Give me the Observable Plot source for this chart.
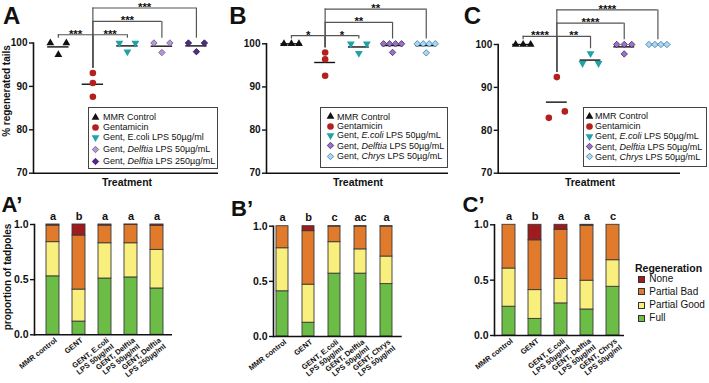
<!DOCTYPE html>
<html><head><meta charset="utf-8">
<script src="https://cdn.jsdelivr.net/npm/d3@7"></script>
<script src="https://cdn.jsdelivr.net/npm/@observablehq/plot@0.6"></script>
<style>
html,body{margin:0;padding:0;background:#fff;}
#root{position:relative;width:709px;height:383px;overflow:hidden;font-family:"Liberation Sans",Arial,Helvetica,sans-serif;color:#111;}
.pabs{position:absolute;overflow:visible;}
.pabs text{font-weight:bold;}
.t{position:absolute;white-space:nowrap;line-height:1;}
.lgbox{position:absolute;border:1px solid #444;box-sizing:border-box;background:#fff;}
.lgrow{position:absolute;white-space:nowrap;font-size:9px;line-height:10px;height:10px;display:flex;align-items:center;}
.lgrow svg{display:block;flex:none;}
</style></head><body><div id="root"></div>
<script>
// ================= DATA =================
// Top panels: % regenerated tails (replicate values per treatment)
const groupsA = ["MMR Control", "Gentamicin", "Gent, E.coli LPS 50µg/ml", "Gent, Delftia LPS 50µg/mL", "Gent, Delftia LPS 250µg/mL"];
const valuesA = [[100, 97.3, 100], [93.1, 90.8, 87.6], [100, 98.0, 100], [100, 97.8, 100], [100, 98.0, 100]];
const bracketsA = [[0, 1, "***", 1], [1, 2, "***", 1], [1, 3, "***", 2], [1, 4, "***", 3]];

const groupsB = ["MMR Control", "Gentamicin", "Gent, E.coli LPS 50µg/mL", "Gent, Delftia LPS 50µg/mL", "Gent, Chrys LPS 50µg/mL"];
const valuesB = [[100, 100, 100], [98.0, 96.4, 92.6], [100, 97.8, 100], [100, 100, 100, 100, 98.0], [100, 100, 100, 100, 97.9]];
const bracketsB = [[0, 1, "*", 1], [1, 2, "*", 1], [1, 3, "**", 2], [1, 4, "**", 3]];

const groupsC = ["MMR Control", "Gentamicin", "Gent, E.coli LPS 50µg/mL", "Gent, Delftia LPS 50µg/mL", "Gent, Chrys LPS 50µg/mL"];
const valuesC = [[100, 100, 100], [92.4, 82.9, 84.4], [97.9, 95.6, 95.6], [100, 100, 100, 97.8], [100, 100, 100, 100]];
const bracketsC = [[0, 1, "****", 1], [1, 2, "**", 1], [1, 3, "****", 2], [1, 4, "****", 3]];

// Bottom panels: proportion of tadpoles by regeneration class
const stages = ["Full", "Partial Good", "Partial Bad", "None"];
const catsA2 = ["MMR control", "GENT", "GENT, E.coli\nLPS 50µg/ml", "GENT, Delftia\nLPS 50µg/ml", "GENT, Delftia\nLPS 250µg/ml"];
const lettersA2 = ["a", "b", "a", "a", "a"];
const fullA2 = [0.53, 0.12, 0.51, 0.52, 0.42];
const pgoodA2 = [0.31, 0.29, 0.32, 0.31, 0.35];
const pbadA2 = [0.15, 0.49, 0.16, 0.167, 0.218];
const noneA2 = [0.01, 0.10, 0.01, 0.003, 0.012];

const catsB2 = ["MMR control", "GENT", "GENT, E.coli\nLPS 50µg/ml", "GENT, Delftia\nLPS 50µg/ml", "GENT, Chrys\nLPS 50µg/ml"];
const lettersB2 = ["a", "b", "c", "ac", "a"];
const fullB2 = [0.41, 0.125, 0.57, 0.57, 0.475];
const pgoodB2 = [0.39, 0.345, 0.285, 0.22, 0.25];
const pbadB2 = [0.20, 0.485, 0.142, 0.207, 0.272];
const noneB2 = [0, 0.045, 0.003, 0.003, 0.003];

const catsC2 = ["MMR control", "GENT", "GENT, E.coli\nLPS 50µg/ml", "GENT, Delftia\nLPS 50µg/ml", "GENT, Chrys\nLPS 50µg/ml"];
const lettersC2 = ["a", "b", "a", "a", "c"];
const fullC2 = [0.26, 0.15, 0.29, 0.235, 0.44];
const pgoodC2 = [0.345, 0.26, 0.22, 0.26, 0.24];
const pbadC2 = [0.395, 0.45, 0.445, 0.497, 0.32];
const noneC2 = [0, 0.14, 0.045, 0.008, 0];

// ================= STYLE =================
const FONT = '"Liberation Sans", Arial, Helvetica, sans-serif';
const plotStyle = {fontFamily: FONT, background: "transparent", overflow: "visible", color: "#111"};
const triDown = {draw(ctx, size) {
  const s3 = Math.sqrt(3), y = -Math.sqrt(size / (s3 * 3));
  ctx.moveTo(0, -y * 2); ctx.lineTo(-s3 * y, y); ctx.lineTo(s3 * y, y); ctx.closePath();
}};
const symType = {triangle: d3.symbolTriangle, circle: d3.symbolCircle, diamond2: d3.symbolDiamond2};
const black = {symbol: "triangle", fill: "#111", stroke: "none", r: 2.9};
const red = {symbol: "circle", fill: "#b3211e", stroke: "none", r: 3.3};
const teal = {symbol: triDown, fill: "#1fa3a6", stroke: "none", r: 2.9};
const styleA = [black, red, teal,
  {symbol: "diamond2", fill: "#b795da", stroke: "#6a5a7a", r: 2.9},
  {symbol: "diamond2", fill: "#56288e", stroke: "#2a1a40", r: 2.9}];
const styleBC = [black, red, teal,
  {symbol: "diamond2", fill: "#9d70cf", stroke: "#3d2a55", r: 2.9},
  {symbol: "diamond2", fill: "#a9d8f1", stroke: "#3d78a8", r: 2.9}];
const stageColor = {"Full": "#6cbd45", "Partial Good": "#f8ef7c", "Partial Bad": "#e17a2b", "None": "#9e1b1e"};

const root = document.getElementById("root");

function spread(vals) {
  const idx = vals.map((v, i) => i).sort((a, b) => vals[a] - vals[b]);
  const off = new Array(vals.length).fill(0);
  let cl = [idx[0]];
  const flush = () => {
    const n = cl.length, s = n === 2 ? 16 : n === 3 ? 7.5 : 6;
    cl.forEach((k, j) => off[k] = (j - (n - 1) / 2) * s);
  };
  for (let t = 1; t < idx.length; t++) {
    if (vals[idx[t]] - vals[idx[t - 1]] < 1.55) cl.push(idx[t]);
    else { flush(); cl = [idx[t]]; }
  }
  flush();
  return off;
}

function mount(svg, left, top) {
  svg.classList.add("pabs");
  svg.style.left = left + "px"; svg.style.top = top + "px";
  root.appendChild(svg);
}

function topPanel(o) {
  const L = o.layout;
  const ppu = (L.width - L.ml - L.mr) / (L.xd[1] - L.xd[0]);
  const means = o.values.map((vals, gi) => ({g: gi, y: d3.mean(vals)}));
  const tops = o.values.map(v => d3.max(v));
  const lvlY = l => 101.9 + (l - 1) * 3.08;
  const hs = o.brackets.map(([a, b, label, l]) => ({a, b, label, y: lvlY(l)}));
  const drops = hs.flatMap(h => [{x: h.a, y1: h.y, y2: tops[h.a] + 1.1}, {x: h.b, y1: h.y, y2: tops[h.b] + 1.1}]);
  const dotMarks = o.values.map((vals, gi) => {
    const off = spread(vals);
    const pts = vals.map((v, k) => ({x: gi + off[k] / ppu, y: v}));
    const st = o.styles[gi];
    return Plot.dot(pts, {x: "x", y: "y", symbol: st.symbol, fill: st.fill, stroke: st.stroke, strokeWidth: 0.8, r: st.r});
  });
  const svg = Plot.plot({
    width: L.width, height: L.height,
    marginLeft: L.ml, marginRight: L.mr, marginTop: L.mt, marginBottom: L.mb,
    style: plotStyle,
    x: {domain: L.xd, axis: null},
    y: {domain: [70, 100], axis: null},
    marks: [
      Plot.axisY({ticks: [70, 80, 90, 100], tickSize: 4, tickPadding: 2, fontSize: 10, strokeWidth: 1.4, label: null}),
      Plot.ruleY(means, {y: "y", x1: d => d.g - 0.31, x2: d => d.g + 0.31, stroke: "#111", strokeWidth: 1.4}),
      Plot.ruleY(hs, {y: "y", x1: "a", x2: "b", stroke: "#555", strokeWidth: 1.2}),
      Plot.ruleX(drops, {x: "x", y1: "y1", y2: "y2", stroke: "#555", strokeWidth: 1.2}),
      Plot.text(hs, {x: d => (d.a + d.b) / 2, y: "y", text: "label", lineAnchor: "bottom", dy: 3, fontSize: 11.5}),
      ...dotMarks,
      Plot.frame({anchor: "left", strokeWidth: 1.6}),
      Plot.ruleY([70], {strokeWidth: 1.6})
    ]
  });
  mount(svg, L.left, L.top);
}

function bottomPanel(o) {
  const L = o.layout;
  const rows = [];
  o.cats.forEach((c, i) => {
    rows.push({cat: c, stage: "Full", v: o.full[i]});
    rows.push({cat: c, stage: "Partial Good", v: o.pgood[i]});
    rows.push({cat: c, stage: "Partial Bad", v: o.pbad[i]});
    rows.push({cat: c, stage: "None", v: o.none[i]});
  });
  const svg = Plot.plot({
    width: L.width, height: L.height,
    marginLeft: L.ml, marginRight: L.mr, marginTop: L.mt, marginBottom: L.mb,
    style: plotStyle,
    x: {type: "band", domain: o.cats, range: L.xr, paddingInner: L.pi, paddingOuter: 0, axis: null},
    y: {domain: [0, 1], axis: null},
    marks: [
      Plot.axisY({ticks: [0, 0.5, 1], tickFormat: d3.format(".1f"), tickSize: 4, tickPadding: 2, fontSize: 10.5, strokeWidth: 1.4, label: null}),
      Plot.barY(rows, {x: "cat", y: "v", z: "stage", order: stages, fill: d => stageColor[d.stage], stroke: "#3a3a3a", strokeWidth: 0.9}),
      Plot.text(o.cats, {x: d => d, y: () => 1, text: (d, i) => o.letters[i], lineAnchor: "middle", dy: -8.5, fontSize: 11}),
      Plot.text(o.cats, {x: d => d, frameAnchor: "bottom", text: d => d, rotate: -38, textAnchor: "end", lineAnchor: "top", dx: 1, dy: 2, fontSize: 7.5, lineHeight: 1.05}),
      Plot.frame({anchor: "left", strokeWidth: 1.6}),
      Plot.ruleY([0], {strokeWidth: 1.6})
    ]
  });
  mount(svg, L.left, L.top);
}

function addText(html, x, y, css, rot) {
  const d = document.createElement("div");
  d.className = "t"; d.innerHTML = html;
  Object.assign(d.style, css || {});
  d.style.left = x + "px"; d.style.top = y + "px";
  d.style.transform = "translate(-50%,-50%)" + (rot ? ` rotate(${rot}deg)` : "");
  root.appendChild(d);
  return d;
}

function symbolSvg(st) {
  const t = st.symbol === triDown ? triDown : symType[st.symbol];
  const path = d3.symbol(t, st.r * st.r * Math.PI)();
  return `<svg width="9" height="9" viewBox="-4.5 -4.5 9 9"><path d="${path}" fill="${st.fill}" stroke="${st.stroke}" stroke-width="0.8"/></svg>`;
}

function topLegend(groups, styles, italics, box, rowsY, symX, textX) {
  const b = document.createElement("div");
  b.className = "lgbox";
  Object.assign(b.style, {left: box[0] + "px", top: box[1] + "px", width: (box[2] - box[0]) + "px", height: (box[3] - box[1]) + "px"});
  root.appendChild(b);
  groups.forEach((g, i) => {
    let label = g;
    italics.forEach(w => { label = label.replace(w, `<i>${w}</i>`); });
    const r = document.createElement("div");
    r.className = "lgrow";
    r.style.left = (symX - 4.5) + "px"; r.style.top = (rowsY[i] - 5) + "px";
    r.innerHTML = symbolSvg(styles[i]) + `<span style="margin-left:${textX - symX - 4.5}px">${label}</span>`;
    root.appendChild(r);
  });
}

// ================= DRAW =================
topPanel({values: valuesA, brackets: bracketsA, styles: styleA,
  layout: {left: 0, top: 0, width: 230, height: 195, ml: 33, mr: 12, mt: 42.5, mb: 22.3, xd: [-0.72, 4.64]}});
topPanel({values: valuesB, brackets: bracketsB, styles: styleBC,
  layout: {left: 230, top: 0, width: 230, height: 195, ml: 36, mr: 12, mt: 43.3, mb: 22.3, xd: [-0.74, 4.66]}});
topPanel({values: valuesC, brackets: bracketsC, styles: styleBC,
  layout: {left: 460, top: 0, width: 249, height: 195, ml: 37.7, mr: 29, mt: 44, mb: 22.3, xd: [-0.74, 4.67]}});

bottomPanel({cats: catsA2, letters: lettersA2, full: fullA2, pgood: pgoodA2, pbad: pbadA2, none: noneA2,
  layout: {left: 0, top: 195, width: 230, height: 188, ml: 34, mr: 58, mt: 29, mb: 48.7, xr: [44.5, 163.5], pi: 0.51}});
bottomPanel({cats: catsB2, letters: lettersB2, full: fullB2, pgood: pgoodB2, pbad: pbadB2, none: noneB2,
  layout: {left: 230, top: 195, width: 230, height: 188, ml: 43, mr: 58.3, mt: 30.7, mb: 47, xr: [44.95, 164.05], pi: 0.53}});
bottomPanel({cats: catsC2, letters: lettersC2, full: fullC2, pgood: pgoodC2, pbad: pbadC2, none: noneC2,
  layout: {left: 460, top: 195, width: 249, height: 188, ml: 34, mr: 85, mt: 29.3, mb: 48, xr: [40.5, 160.5], pi: 0.514}});

// legends
topLegend(groupsA, styleA, ["Delftia"], [88, 107, 218, 169], [117, 127, 137, 149, 161], 95, 103);
topLegend(groupsB, styleBC, ["E.coli", "Delftia", "Chrys"], [320, 107, 448, 168.3], [116.7, 126, 135.3, 145.7, 156], 330, 337);
topLegend(groupsC, styleBC, ["E.coli", "Delftia", "Chrys"], [583, 107, 707, 166.7], [116, 126, 136, 146.7, 156.7], 589, 595);

// regeneration legend
{
  const t = addText("Regeneration", 635, 268, {fontSize: "10.5px", fontWeight: "bold"});
  t.style.transform = "translate(0,-50%)";
  const ys = [279.3, 291.7, 305, 318.3];
  ["None", "Partial Bad", "Partial Good", "Full"].forEach((s, i) => {
    const r = document.createElement("div");
    r.className = "lgrow";
    r.style.fontSize = "10px"; r.style.height = "12px"; r.style.lineHeight = "12px";
    r.style.left = "638px"; r.style.top = (ys[i] - 6) + "px";
    r.innerHTML = `<span style="display:inline-block;width:7.3px;height:7px;box-sizing:border-box;border:0.8px solid #333;background:${stageColor[s]}"></span><span style="margin-left:4px">${s}</span>`;
    root.appendChild(r);
  });
}

// axis titles
addText("% regenerated tails", 7, 91, {fontSize: "10px", fontWeight: "bold"}, -90);
addText("proportion of tadpoles", 8, 277, {fontSize: "10px", fontWeight: "bold"}, -90);
addText("Treatment", 127, 182, {fontSize: "10.5px", fontWeight: "bold"});
addText("Treatment", 358, 182, {fontSize: "10.5px", fontWeight: "bold"});
addText("Treatment", 590, 182, {fontSize: "10.5px", fontWeight: "bold"});

// panel letters
const L24 = {fontSize: "24px", fontWeight: "bold", lineHeight: "0.72"};
const L22 = {fontSize: "22px", fontWeight: "bold", lineHeight: "0.72"};
addText("A", 11.7, 16, L24);
addText("B", 238, 16, L24);
addText("C", 472.5, 16, L24);
addText("A’", 12, 205, L22);
addText("B’", 242, 208.5, L22);
addText("C’", 473.5, 205, L22);
</script></body></html>
